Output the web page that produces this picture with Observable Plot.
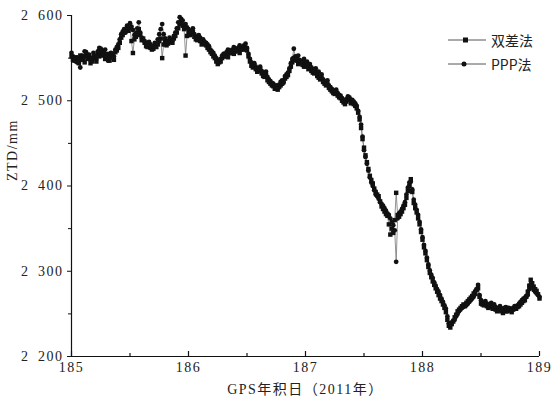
<!DOCTYPE html>
<html>
<head>
<meta charset="utf-8">
<script src="https://cdn.jsdelivr.net/npm/d3@7"></script>
<script src="https://cdn.jsdelivr.net/npm/@observablehq/plot@0.6"></script>
<style>
  html, body { margin: 0; padding: 0; background: #fff; }
  #wrap { position: relative; width: 557px; height: 405px; overflow: hidden; }
  #legend { position: absolute; left: 448px; top: 28px; font-family: "Noto Sans CJK SC", "Liberation Serif", serif; font-size: 14px; color: #222; }
  #legend .row { display: flex; align-items: center; height: 24px; }
  #legend svg { display: block; margin-right: 5px; }
</style>
</head>
<body>
<div id="wrap"><div id="chart"></div><div id="legend"></div></div>
<script>
// ---- data ----
const seriesNames = ["双差法", "PPP法"];
const dayStart = 185;       // first epoch (day of year)
const dayStep = 0.0125;     // sampling interval (days)

// ZTD (mm), double-difference solution
const ddZTD = [
  2552,2548, 2547,2551, 2549,2544, 2553,2549, 2548,2545, 2553,2549, 2550,2544, 2546,2551, 2550,2546, 2555,2552,
  2558,2553, 2554,2549, 2551,2555, 2547,2551, 2552,2548, 2557,2559, 2562,2568, 2574,2577, 2580,2583, 2585,2582,
  2586,2570, 2556,2572, 2575,2580, 2584,2577, 2571,2573, 2568,2564, 2563,2566, 2562,2560, 2561,2565, 2563,2566,
  2570,2573, 2550,2566, 2569,2565, 2567,2569, 2570,2568, 2573,2576, 2580,2585, 2590,2593, 2588,2584, 2553,2576,
  2580,2577, 2579,2581, 2575,2572, 2571,2573, 2570,2566, 2569,2567, 2565,2562, 2560,2557, 2555,2552, 2550,2546,
  2543,2545, 2546,2550, 2552,2555, 2554,2551, 2556,2558, 2557,2555, 2558,2561, 2559,2556, 2560,2562, 2562,2560,
  2559,2552, 2546,2541, 2539,2541, 2537,2534, 2535,2537, 2532,2529, 2528,2530, 2524,2522, 2520,2518, 2517,2514,
  2515,2513, 2516,2518, 2520,2523, 2526,2528, 2530,2535, 2540,2545, 2550,2548, 2547,2543, 2544,2546, 2542,2540,
  2540,2542, 2537,2539, 2535,2533, 2532,2534, 2529,2527, 2525,2527, 2522,2520, 2518,2520, 2515,2513, 2511,2509,
  2508,2510, 2506,2504, 2503,2500, 2498,2496, 2499,2502, 2501,2497, 2498,2496, 2494,2491, 2486,2478, 2468,2455,
  2445,2436, 2428,2420, 2412,2407, 2403,2397, 2393,2390, 2388,2382, 2376,2373, 2370,2367, 2365,2355, 2343,2350,
  2345,2360, 2392,2366, 2364,2367, 2370,2374, 2378,2386, 2394,2400, 2408,2393, 2380,2374, 2369,2362, 2355,2346,
  2337,2328, 2321,2313, 2305,2298, 2293,2288, 2284,2280, 2276,2272, 2268,2265, 2261,2257, 2252,2243, 2236,2234,
  2238,2241, 2246,2249, 2253,2255, 2257,2259, 2261,2259, 2263,2265, 2267,2269, 2271,2274, 2276,2278, 2280,2270,
  2262,2261, 2260,2262, 2259,2257, 2258,2260, 2256,2258, 2255,2253, 2254,2256, 2253,2251, 2255,2253, 2253,2255,
  2254,2252, 2255,2257, 2256,2258, 2259,2261, 2263,2265, 2266,2270, 2276,2283, 2290,2286, 2282,2279, 2277,2273,
  2268
];

// ZTD (mm), PPP solution
const pppZTD = [
  2556,2552, 2550,2546, 2545,2549, 2539,2553, 2552,2558, 2557,2551, 2554,2548, 2550,2556, 2553,2549, 2558,2562,
  2561,2555, 2557,2560, 2553,2547, 2550,2556, 2555,2552, 2560,2563, 2566,2572, 2578,2581, 2584,2580, 2588,2586,
  2591,2587, 2583,2577, 2579,2585, 2592,2580, 2574,2571, 2570,2566, 2567,2569, 2566,2562, 2564,2568, 2567,2572,
  2578,2584, 2590,2578, 2573,2568, 2570,2574, 2572,2570, 2576,2580, 2585,2592, 2598,2596, 2594,2589, 2590,2586,
  2584,2580, 2582,2585, 2578,2574, 2575,2577, 2574,2570, 2572,2569, 2568,2566, 2564,2560, 2558,2556, 2553,2550,
  2546,2548, 2549,2553, 2555,2552, 2557,2560, 2559,2556, 2560,2563, 2561,2558, 2562,2565, 2563,2560, 2565,2567,
  2562,2555, 2549,2545, 2542,2544, 2540,2537, 2538,2540, 2535,2533, 2531,2534, 2528,2525, 2523,2521, 2520,2517,
  2518,2515, 2519,2522, 2524,2521, 2529,2531, 2533,2538, 2544,2549, 2561,2552, 2550,2553, 2548,2545, 2546,2549,
  2544,2546, 2541,2543, 2539,2537, 2536,2538, 2532,2534, 2528,2531, 2525,2523, 2521,2524, 2518,2516, 2514,2512,
  2511,2513, 2509,2507, 2506,2503, 2501,2499, 2502,2505, 2504,2500, 2501,2499, 2497,2494, 2488,2481, 2472,2458,
  2442,2434, 2426,2418, 2410,2404, 2400,2395, 2390,2388, 2385,2381, 2379,2377, 2374,2371, 2368,2366, 2362,2358,
  2354,2348, 2311,2362, 2368,2370, 2373,2377, 2381,2390, 2398,2404, 2405,2396, 2384,2378, 2372,2366, 2358,2349,
  2340,2331, 2324,2316, 2308,2301, 2296,2292, 2287,2283, 2279,2276, 2272,2268, 2264,2260, 2256,2247, 2239,2237,
  2240,2242, 2243,2247, 2250,2253, 2255,2257, 2258,2261, 2260,2262, 2264,2266, 2268,2270, 2273,2279, 2284,2272,
  2266,2264, 2263,2265, 2262,2260, 2261,2263, 2259,2261, 2258,2256, 2257,2259, 2256,2254, 2257,2258, 2255,2257,
  2256,2254, 2257,2259, 2258,2260, 2262,2264, 2266,2268, 2269,2271, 2272,2279, 2285,2281, 2278,2276, 2274,2272,
  2270
];

const xTicks = [185, 186, 187, 188, 189];
const xMinorTicks = [185.5, 186.5, 187.5, 188.5];
const yTicks = [2200, 2300, 2400, 2500, 2600];
const yTickLabels = ["2\u2007200", "2\u2007300", "2\u2007400", "2\u2007500", "2\u2007600"];
const yMinorTicks = [2250, 2350, 2450, 2550];
const xTitle = "GPS年积日（2011年）";
const yTitle = "ZTD/mm";

// ---- build ----
const dd = ddZTD.map((v, i) => ({day: dayStart + i * dayStep, ztd: v}));
const ppp = pppZTD.map((v, i) => ({day: dayStart + i * dayStep, ztd: v}));

const W = 557, H = 405, mT = 15, mB = 49, mL = 71, mR = 18;
const plotH = H - mT - mB;
const ink = "#111";
const numFont = "'Liberation Serif', 'DejaVu Serif', serif";

const chart = Plot.plot({
  width: W, height: H,
  marginTop: mT, marginBottom: mB, marginLeft: mL, marginRight: mR,
  x: {domain: [185, 189]},
  y: {domain: [2200, 2600]},
  style: {fontFamily: numFont, fontSize: "14px", color: "#222", background: "#fff", letterSpacing: "1.5px"},
  marks: [
    Plot.line(dd, {x: "day", y: "ztd", stroke: "#777", strokeWidth: 0.8}),
    Plot.line(ppp, {x: "day", y: "ztd", stroke: "#777", strokeWidth: 0.8}),
    Plot.dot(dd, {x: "day", y: "ztd", symbol: "square", r: 2.5, fill: ink, stroke: null}),
    Plot.dot(ppp, {x: "day", y: "ztd", symbol: "circle", r: 2.4, fill: ink, stroke: null}),
    Plot.ruleX([185], {stroke: ink, strokeWidth: 1.2}),
    Plot.ruleY([2200], {stroke: ink, strokeWidth: 1.2}),
    Plot.axisY({ticks: yTicks, tickSize: 4, tickPadding: 4, tickFormat: d => yTickLabels[yTicks.indexOf(d)], label: null, stroke: ink}),
    Plot.axisY({ticks: yMinorTicks, tickSize: 3, tickFormat: () => "", label: null, stroke: ink}),
    Plot.axisX({ticks: xTicks, tickSize: 0, tickPadding: 6, tickFormat: d => String(d), label: null}),
    Plot.tickX(xTicks, {x: d => d, insetTop: plotH - 5, stroke: ink, strokeWidth: 1.2}),
    Plot.tickX(xMinorTicks, {x: d => d, insetTop: plotH - 3, stroke: ink, strokeWidth: 1.2}),
    Plot.text([yTitle], {text: d => d, frameAnchor: "left", dx: -59, dy: -5, rotate: -90, fontSize: 14, fill: "#222"}),
    Plot.text([xTitle], {text: d => d, frameAnchor: "bottom", dy: 37, fontSize: 14, fill: "#222", fontFamily: "'Liberation Serif', 'Noto Sans CJK SC', serif"})
  ]
});
document.getElementById("chart").appendChild(chart);

// legend
const legend = d3.select("#legend");
seriesNames.forEach((name, i) => {
  const row = legend.append("div").attr("class", "row");
  const s = row.append("svg").attr("width", 38).attr("height", 10);
  s.append("line").attr("x1", 0).attr("x2", 38).attr("y1", 5).attr("y2", 5).attr("stroke", "#555").attr("stroke-width", 1);
  if (i === 0) s.append("rect").attr("x", 15).attr("y", 2.5).attr("width", 5).attr("height", 5).attr("fill", ink);
  else s.append("circle").attr("cx", 16).attr("cy", 5).attr("r", 2.5).attr("fill", ink);
  row.append("span").text(name);
});
</script>
</body>
</html>
